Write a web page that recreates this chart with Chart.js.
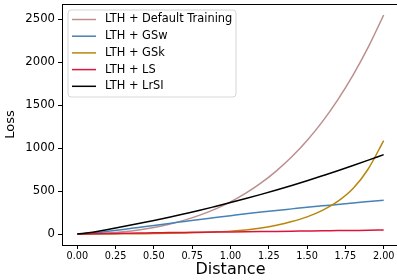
<!DOCTYPE html>
<html>
<head>
<meta charset="utf-8">
<script src="https://cdn.jsdelivr.net/npm/chart.js@4"></script>
<style>
  html, body { margin: 0; padding: 0; overflow: hidden; background: #fff; }
  #wrap { width: 401px; height: 280px; }
</style>
</head>
<body>
<div id="wrap"><canvas id="lossChart"></canvas></div>
<script>
// distance samples
const distance = [0, 0.1, 0.2, 0.3, 0.4, 0.5, 0.6, 0.7, 0.8, 0.9, 1.0,
                  1.1, 1.2, 1.3, 1.4, 1.5, 1.6, 1.7, 1.8, 1.9, 2.0];

// loss, one list per method
const lossDefault = [0, 3, 12, 27, 48, 77, 115, 162, 220, 290, 375,
                     476, 595, 736, 900, 1090, 1309, 1562, 1850, 2178, 2550];
const lossGSw = [0, 12, 32, 54, 77, 100, 124, 147, 170, 192, 214,
                 236, 256, 275, 293, 311, 328, 345, 362, 378, 394];
const lossGSk = [0, 0.5, 1, 2, 4, 6, 9, 13, 18, 25, 34,
                 48, 70, 102, 145, 200, 275, 380, 530, 760, 1088];
const lossLS = [0, 3, 6, 9, 12, 14, 17, 19, 21, 23, 25,
                27, 29, 31, 33, 35, 37, 40, 42, 44, 47];
const lossLrSI = [0, 22, 52, 88, 122, 158, 196, 236, 277, 321, 366,
                  413, 462, 513, 566, 621, 678, 736, 797, 860, 924];

const seriesNames = ['LTH + Default Training', 'LTH + GSw', 'LTH + GSk', 'LTH + LS', 'LTH + LrSI'];
const seriesColors = ['#bc8f8f', '#4682b4', '#b8860b', '#dc143c', '#000000'];
const seriesValues = [lossDefault, lossGSw, lossGSk, lossLS, lossLrSI];

const xTicks = [0, 0.25, 0.5, 0.75, 1.0, 1.25, 1.5, 1.75, 2.0];
const yTicks = [0, 500, 1000, 1500, 2000, 2500];

const font = 'DejaVu Sans';

// matplotlib style box + legend in the upper left
const framePlugin = {
    id: 'frame',
    afterDatasetsDraw(chart) {
        const { ctx, chartArea: a } = chart;
        ctx.save();
        ctx.strokeStyle = '#000';
        ctx.lineWidth = 1;
        ctx.strokeRect(a.left + 0.5, a.top + 0.5, a.right - a.left, a.bottom - a.top);

        // legend
        const bx = 68, by = 10, bw = 168, bh = 87, r = 3;
        ctx.beginPath();
        ctx.moveTo(bx + r, by);
        ctx.arcTo(bx + bw, by, bx + bw, by + bh, r);
        ctx.arcTo(bx + bw, by + bh, bx, by + bh, r);
        ctx.arcTo(bx, by + bh, bx, by, r);
        ctx.arcTo(bx, by, bx + bw, by, r);
        ctx.closePath();
        ctx.fillStyle = 'rgba(255,255,255,0.8)';
        ctx.fill();
        ctx.strokeStyle = '#d6d6d6';
        ctx.stroke();

        ctx.font = '11.4px "' + font + '"';
        ctx.textBaseline = 'middle';
        ctx.textAlign = 'left';
        seriesNames.forEach((name, i) => {
            const yy = 19.5 + i * 16.7;
            ctx.strokeStyle = seriesColors[i];
            ctx.lineWidth = 1.5;
            ctx.beginPath();
            ctx.moveTo(72, yy);
            ctx.lineTo(96, yy);
            ctx.stroke();
            ctx.fillStyle = '#000';
            ctx.fillText(name, 105, yy);
        });
        ctx.restore();
    }
};

const datasets = seriesNames.map((name, i) => ({
    label: name,
    data: distance.map((d, j) => ({ x: d, y: seriesValues[i][j] })),
    borderColor: seriesColors[i],
    borderWidth: 1.5,
    pointRadius: 0,
    fill: false,
    cubicInterpolationMode: 'monotone',
    order: seriesNames.length - i
}));

const ctx = document.getElementById('lossChart').getContext('2d');
const lossChart = new Chart(ctx, {
    type: 'line',
    data: { datasets: datasets },
    options: {
        responsive: true,
        maintainAspectRatio: false,
        devicePixelRatio: 1,
        animation: false,
        layout: { padding: { top: 4, right: 2, left: 0, bottom: 0 } },
        plugins: {
            legend: { display: false },
            tooltip: { enabled: false }
        },
        scales: {
            x: {
                type: 'linear',
                min: -0.1,
                max: 2.1,
                afterBuildTicks: (scale) => { scale.ticks = xTicks.map(v => ({ value: v })); },
                afterFit: (scale) => {
                    scale.height = 35;
                    scale.paddingLeft = 0;
                    scale.paddingRight = 0;
                },
                grid: { display: true, drawOnChartArea: false, drawTicks: true, tickLength: 4, color: '#000' },
                border: { display: true, color: '#000', width: 1 },
                ticks: {
                    color: '#000',
                    padding: 2,
                    maxRotation: 0,
                    font: { family: font, size: 9.7 },
                    callback: (v) => Number(v).toFixed(2)
                },
                title: {
                    display: true,
                    text: 'Distance',
                    color: '#000',
                    padding: { top: 0, bottom: 1 },
                    font: { family: font, size: 16 }
                }
            },
            y: {
                min: -127.5,
                max: 2677.5,
                afterBuildTicks: (scale) => { scale.ticks = yTicks.map(v => ({ value: v })); },
                afterFit: (scale) => {
                    scale.width = 62;
                    scale.paddingTop = 0;
                    scale.paddingBottom = 0;
                },
                grid: { display: true, drawOnChartArea: false, drawTicks: true, tickLength: 4, color: '#000' },
                border: { display: true, color: '#000', width: 1 },
                ticks: {
                    color: '#000',
                    padding: 3,
                    font: { family: font, size: 11.7 },
                    callback: (v) => String(v)
                },
                title: {
                    display: true,
                    text: 'Loss',
                    color: '#000',
                    padding: { top: 3, bottom: 0 },
                    font: { family: font, size: 13 }
                }
            }
        }
    },
    plugins: [framePlugin]
});
</script>
</body>
</html>
